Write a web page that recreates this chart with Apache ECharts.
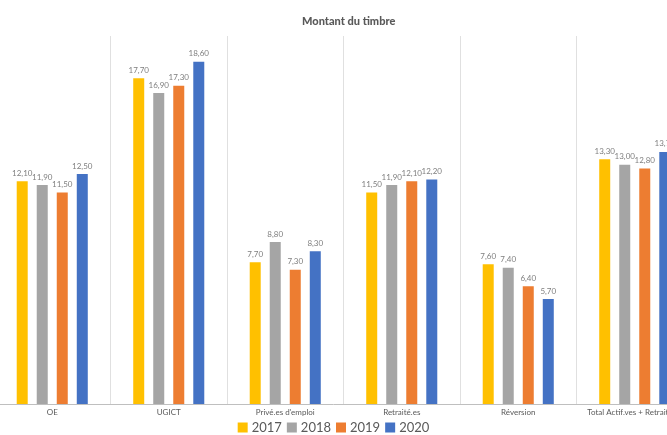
<!DOCTYPE html>
<html><head><meta charset="utf-8">
<script src="https://cdn.jsdelivr.net/npm/echarts@6/dist/echarts.min.js"></script>
<style>html,body{margin:0;padding:0;background:#fff}#c{width:667px;height:435px}</style>
</head><body><div id="c"></div>
<script>
const categories = ['OE','UGICT','Privé.es d\'emploi','Retraité.es','Réversion','Total Actif.ves + Retraité.es'];
const years = ['2017','2018','2019','2020'];
const v2017 = [12.1, 17.7, 7.7, 11.5, 7.6, 13.3];
const v2018 = [11.9, 16.9, 8.8, 11.9, 7.4, 13.0];
const v2019 = [11.5, 17.3, 7.3, 12.1, 6.4, 12.8];
const v2020 = [12.5, 18.6, 8.3, 12.2, 5.7, 13.7];
const colors = ['#FFC000','#A5A5A5','#ED7D31','#4472C4'];
const values = [v2017, v2018, v2019, v2020];

const chart = echarts.init(document.getElementById('c'));
chart.setOption({
  animation: false,
  title: {text: 'Montant du timbre', left: 297, top: 11,
    textStyle: {fontFamily: 'Lato', fontWeight: 900, fontSize: 11, color: '#595959'}},
  legend: {data: years, top: 416, left: 'center', itemWidth: 10, itemHeight: 10, itemGap: 5,
    icon: 'rect', textStyle: {fontFamily: 'Lato', fontSize: 13, color: '#595959', padding: [0,0,0,-1]}},
  grid: {left: -6, width: 699, top: 36, bottom: 31, containLabel: false, outerBoundsMode: 'none'},
  xAxis: {type: 'category', data: categories,
    axisLine: {lineStyle: {color: '#BFBFBF'}}, axisTick: {show: false},
    splitLine: {show: true, lineStyle: {color: '#E0E0E0'}},
    axisLabel: {fontFamily: 'Lato', fontSize: 8, color: '#595959', margin: 4, interval: 0}},
  yAxis: {type: 'value', min: 0, max: 20, show: false, splitLine: {show: false}},
  series: values.map((d, i) => ({
    name: years[i], type: 'bar', data: d, barWidth: 11, barGap: '82%',
    itemStyle: {color: colors[i]},
    label: {show: true, position: 'top', distance: 4, fontFamily: 'Lato', fontSize: 8, color: '#7F7F7F',
      formatter: p => p.value.toFixed(2).replace('.', ',')}
  }))
});
</script></body></html>
